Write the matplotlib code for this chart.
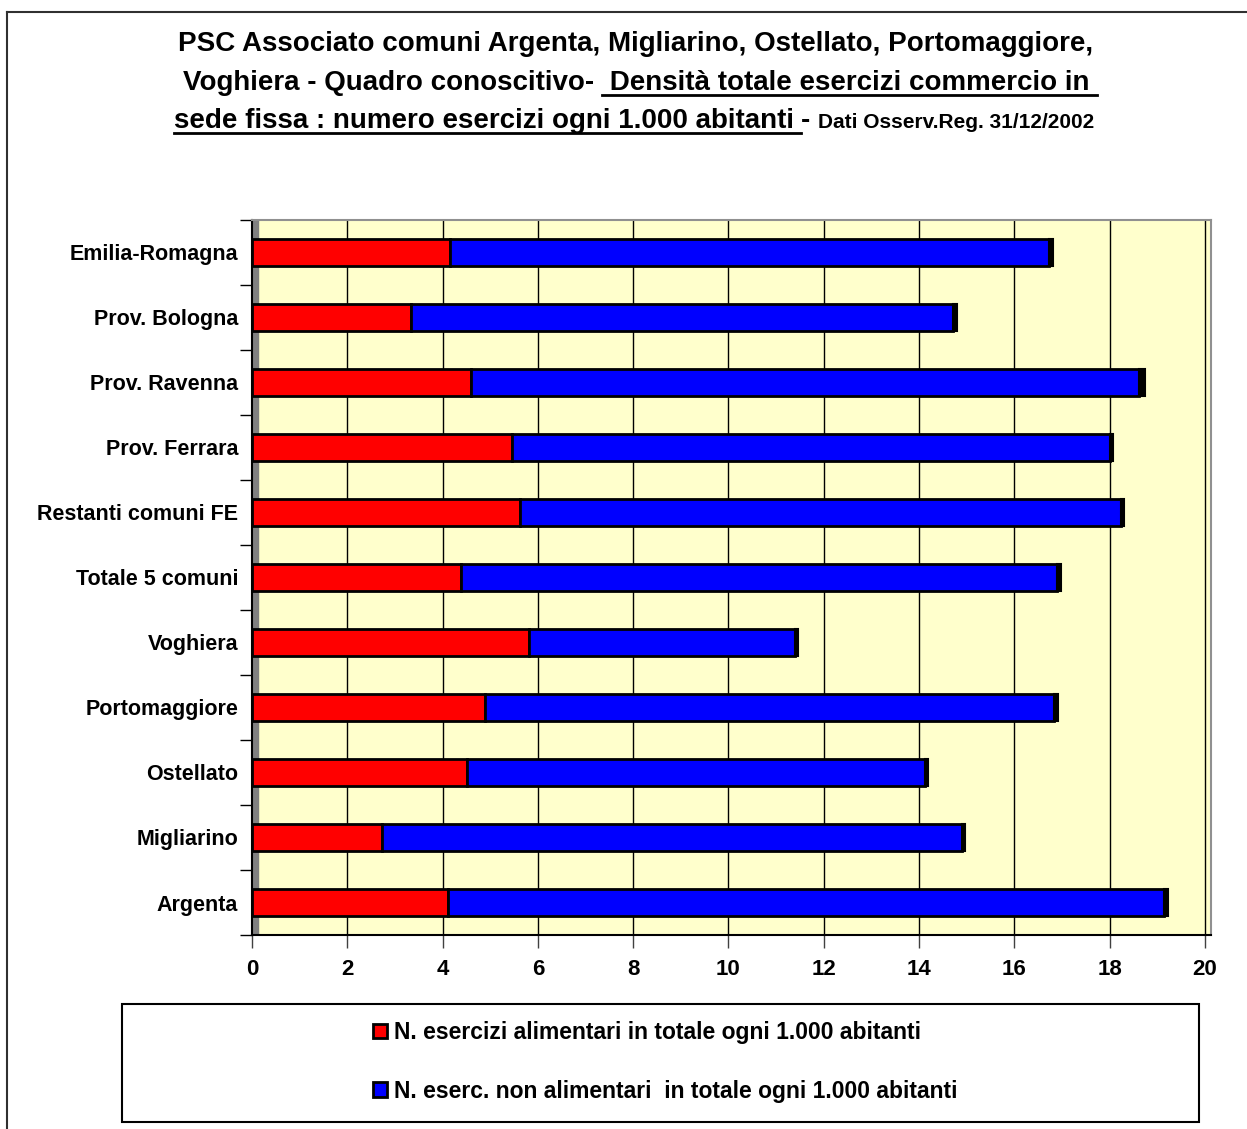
import numpy as np
import matplotlib.pyplot as plt
from matplotlib.lines import Line2D
from matplotlib.patches import Rectangle

# Data (bottom to top, as in the chart)
categories = ["Argenta", "Migliarino", "Ostellato", "Portomaggiore", "Voghiera",
              "Totale 5 comuni", "Restanti comuni FE", "Prov. Ferrara",
              "Prov. Ravenna", "Prov. Bologna", "Emilia-Romagna"]
alimentari = [4.11, 2.73, 4.51, 4.89, 5.81, 4.39, 5.62, 5.46, 4.60, 3.34, 4.16]
non_alimentari = [15.03, 12.17, 9.62, 11.94, 5.58, 12.50, 12.62, 12.55, 14.02, 11.38, 12.57]
altro = [0.08, 0.06, 0.06, 0.08, 0.07, 0.10, 0.06, 0.06, 0.12, 0.08, 0.08]
xticks = np.arange(0, 21, 2)

W, H = 1247, 1129
fig = plt.figure(figsize=(W / 100, H / 100), dpi=100)
font = "Liberation Sans"


def fx(px):
    return px / W


def fy(py):
    return 1 - py / H


ax = fig.add_axes([fx(252), fy(935), fx(1211) - fx(252), (935 - 220) / H])
ax.set_facecolor("#FFFFCC")

y = np.arange(len(categories))
hgt = 0.41
left2 = np.array(alimentari)
left3 = left2 + np.array(non_alimentari)
ax.barh(y, alimentari, height=hgt, color="#FF0000", edgecolor="black", lw=2, zorder=3,
        label="N. esercizi alimentari in totale ogni 1.000 abitanti")
ax.barh(y, non_alimentari, left=left2, height=hgt, color="#0000FF", edgecolor="black", lw=2,
        zorder=3, label="N. eserc. non alimentari  in totale ogni 1.000 abitanti")
ax.barh(y, altro, left=left3, height=hgt, color="black", edgecolor="black", lw=1.5, zorder=3,
        label="_nolegend_")

# grey side wall
ax.axvspan(0, 0.12, color="#808080", zorder=1)

ax.set_xlim(0, 20.13)
ax.set_ylim(-0.5, len(categories) - 0.5)
ax.set_xticks(xticks)
ax.set_xticklabels([str(v) for v in xticks], fontsize=16, fontweight="bold", family=font)
ax.set_yticks(y)
ax.set_yticklabels(categories, fontsize=15.5, fontweight="bold", family=font)
ax.set_yticks(np.arange(-0.5, len(categories), 1), minor=True)
ax.tick_params(axis="y", which="major", length=0, pad=10)
ax.tick_params(axis="y", which="minor", length=9, width=1, color="black", direction="out")
ax.tick_params(axis="x", which="major", length=9, width=1, color="#404040", pad=8)
ax.grid(axis="x", color="black", lw=1, zorder=2)
ax.set_axisbelow(True)

ax.spines["left"].set_color("black")
ax.spines["bottom"].set_color("black")
ax.spines["top"].set_color("#909090")
ax.spines["right"].set_color("#909090")
for s in ax.spines.values():
    s.set_linewidth(1.5)

# outer border (top and left only visible)
fig.add_artist(Line2D([fx(7), 1], [fy(12), fy(12)], color="#303030", lw=1.5))
fig.add_artist(Line2D([fx(7), fx(7)], [fy(12), 0], color="#303030", lw=1.5))

# title with underlined parts
renderer = fig.canvas.get_renderer()


def title_line(pieces, cx, base, ul_y):
    texts = []
    for txt, size, ul in pieces:
        t = fig.text(0, fy(base), txt, fontsize=size, fontweight="bold", family=font,
                     ha="left", va="baseline")
        texts.append((t, ul))
    widths = [t.get_window_extent(renderer).width for t, _ in texts]
    x = cx - sum(widths) / 2
    for (t, ul), w in zip(texts, widths):
        t.set_x(fx(x))
        if ul:
            fig.add_artist(Line2D([fx(x), fx(x + w)], [fy(ul_y), fy(ul_y)], color="black", lw=2))
        x += w


title_line([("PSC Associato comuni Argenta, Migliarino, Ostellato, Portomaggiore,", 20, False)],
           636, 51, 0)
title_line([("Voghiera - Quadro conoscitivo- ", 20, False),
            (" Densità totale esercizi commercio in ", 20, True)], 640, 90, 95)
title_line([("sede fissa : numero esercizi ogni 1.000 abitanti ", 20, True),
            ("- ", 20, False),
            ("Dati Osserv.Reg. 31/12/2002", 15, False)], 634, 128, 133)

# legend box
fig.add_artist(Rectangle((fx(122), fy(1122)), fx(1199) - fx(122), (1122 - 1004) / H,
                         fill=False, edgecolor="black", lw=1.5))
handles, labels = ax.get_legend_handles_labels()
fig.legend(handles, labels, loc="center", bbox_to_anchor=(fx(665), fy(1062)), frameon=False,
           prop={"family": font, "weight": "bold", "size": 16.5},
           handlelength=0.6, handleheight=0.6, handletextpad=0.3, labelspacing=1.55)

fig.savefig("out.png", dpi=100)
